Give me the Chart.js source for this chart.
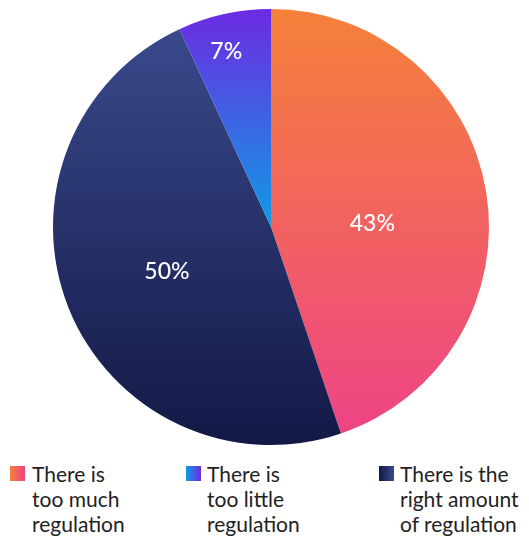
<!DOCTYPE html>
<html>
<head>
<meta charset="utf-8">
<script src="https://cdn.jsdelivr.net/npm/chart.js@4.4.0/dist/chart.umd.min.js"></script>
<style>
  html, body { margin: 0; padding: 0; background: #ffffff; }
  #wrap { position: relative; width: 529px; height: 537px; overflow: hidden; }
  #c { position: absolute; left: 0; top: 0; }
  .leg { position: absolute; top: 461px; font-family: Lato, "Open Sans", sans-serif; font-size: 21px; line-height: 25px; color: #222; }
  .sw { position: absolute; top: 466px; width: 15px; height: 15px; }
</style>
</head>
<body>
<div id="wrap">
  <canvas id="c" width="529" height="455"></canvas>
  <div id="legend"></div>
</div>
<script>
// ---- data ----
const categories = ["There is too much regulation", "There is the right amount of regulation", "There is too little regulation"];
const legendLines = [["There is", "too much", "regulation"], ["There is", "too little", "regulation"], ["There is the", "right amount", "of regulation"]];
const legendOrder = [0, 2, 1];
const shareValues = [44.8, 48.3, 6.9];          // slice sizes as drawn in the picture
const shareLabels = ["43%", "50%", "7%"];        // percentages printed on the slices

// ---- styles ----
const gradStops = [
  ["#f5813a", "#ee4287"],
  ["#3b4b8e", "#131946"],
  ["#6d2ae2", "#0f9be4"]
];
const legendGrad = ["linear-gradient(to right,#f5813a,#ee4287)", "linear-gradient(to right,#0f9be4,#6d2ae2)", "linear-gradient(to right,#131946,#394a8d)"];
const legendX = [{sw: 10, tx: 32}, {sw: 186, tx: 207}, {sw: 379, tx: 400}];

function sliceGradient(ctx) {
  const chart = ctx.chart;
  const area = chart.chartArea;
  if (!area) return gradStops[ctx.dataIndex][0];
  const i = ctx.dataIndex;
  const cy = (area.top + area.bottom) / 2;
  const r = Math.min(area.width, area.height) / 2;
  let y0 = cy - r, y1 = cy + r;
  if (i === 2) { y1 = cy; }
  const g = chart.ctx.createLinearGradient(0, y0, 0, y1);
  g.addColorStop(0, gradStops[i][0]);
  g.addColorStop(1, gradStops[i][1]);
  return g;
}

const sliceLabelPlugin = {
  id: 'sliceLabels',
  afterDatasetsDraw(chart, args, opts) {
    const ctx = chart.ctx;
    const meta = chart.getDatasetMeta(0);
    ctx.save();
    ctx.fillStyle = opts.color;
    ctx.font = opts.font;
    ctx.textAlign = 'center';
    ctx.textBaseline = 'middle';
    meta.data.forEach((arc, i) => {
      const p = arc.getProps(['x', 'y', 'startAngle', 'endAngle', 'outerRadius'], true);
      const mid = (p.startAngle + p.endAngle) / 2 + opts.angleShift[i] * Math.PI / 180;
      const rr = p.outerRadius * opts.radiusFactor[i];
      ctx.fillText(shareLabels[i], p.x + Math.cos(mid) * rr, p.y + Math.sin(mid) * rr);
    });
    ctx.restore();
  }
};

new Chart(document.getElementById('c'), {
  type: 'pie',
  data: {
    labels: categories,
    datasets: [{
      data: shareValues,
      backgroundColor: sliceGradient,
      borderWidth: 0,
      hoverOffset: 0
    }]
  },
  options: {
    responsive: false,
    animation: false,
    layout: { padding: { left: 13, right: 0, top: 9, bottom: 10 } },
    plugins: {
      legend: { display: false },
      tooltip: { enabled: false },
      sliceLabels: {
        color: '#ffffff',
        font: '500 23px Lato, "Open Sans", sans-serif',
        radiusFactor: [0.465, 0.52, 0.83],
        angleShift: [7.4, -1.6, -1.9]
      }
    }
  },
  plugins: [sliceLabelPlugin]
});

// ---- HTML legend ----
const legendEl = document.getElementById('legend');
legendOrder.forEach((dataIdx, k) => {
  const sw = document.createElement('div');
  sw.className = 'sw';
  sw.style.left = legendX[k].sw + 'px';
  sw.style.background = legendGrad[k];
  legendEl.appendChild(sw);
  const t = document.createElement('div');
  t.className = 'leg';
  t.style.left = legendX[k].tx + 'px';
  t.innerHTML = legendLines[k].join('<br>');
  legendEl.appendChild(t);
});
</script>
</body>
</html>
